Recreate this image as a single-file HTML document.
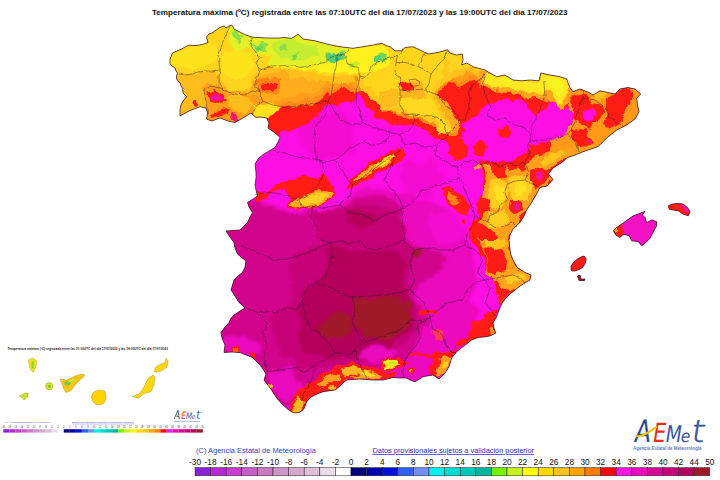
<!DOCTYPE html>
<html lang="es"><head><meta charset="utf-8"><title>Temperatura máxima - AEMET</title>
<style>html,body{margin:0;padding:0;background:#fff;overflow:hidden}svg{display:block;font-family:"Liberation Sans",Arial,sans-serif}</style></head><body>
<svg width="720" height="480" viewBox="0 0 720 480">
<defs>
<clipPath id="land"><polygon points="170,59 172.5,53 177,51 181.7,49 185,47 189,45 195,45.5 200,45 204,44 208,42.5 207,39 206.7,36.7 209,34 213,32.5 216,30 220,27.5 224,26 226,28 229,26 231.7,25 233,27 234,29 238,31 241.7,33 246,35 251,36.7 255,37.5 260,37.5 266,38 273,38 280,38 283,37.5 291.7,38.3 298.3,34.2 303,39 315,40.8 326.7,44 340,46.7 353,48.3 363,46.7 373,45 381.7,43.3 386.7,45.8 390,46.7 395,50.8 401.7,50.8 405,47.5 413,46.7 421.7,50.8 428,54 438,52.5 447.5,49.7 450,53 456.7,55 462.5,54 463,60 461.7,65 466.7,63 473,66.7 485,70 490,73 496.7,76.7 505,75 513,80 521.7,80.8 530,80 539,80.8 540.8,73 550,75 560,76.7 566.7,79 570,88 573,91.7 580,89 589,92.5 593,95 600,90.8 608,92.5 615,94 620,89 628,87.5 635,89 640.8,94 636.7,98 637.5,105 639,111.7 635,119 626.7,125 616.7,130 606.7,138 598,146.7 583,151.7 575,155 566.7,158 563,161.7 553,168 548.5,174 553,179.5 547,186 540,187.5 535,196.7 530,205 526.7,210 524,216 520,222.5 516,226 512.5,230 510,235 509,240 510,250 511,255 514,262 517.5,267.5 524,272 531,275 530,280 525,283 520,286 515,290 510,294 506,298 502.5,302.5 500,308 498.3,312 496,318 493,323 494,328 495.8,333 491,335.5 486.7,336.7 478,337.5 471.7,340 463,346.7 456.7,351.7 451.7,358 449,366.7 445,373 439,379 436,377 433,375 427,376 423,376.7 418,380 415,381.7 410,380 406.7,378 400,378 393,377.5 383,380 373,380 360,379 352,379.5 346.7,380 343,383 339,387 335,390 328,391 323,391.7 317,394 311.7,396.7 308.5,399.5 306.7,401.7 305,406 303,410 299,412.5 295,413 292,412 287.5,409 282,404 277.5,399 274,394 271,389 267,384 264,380 266,374 263,369 260,365 256,361 252.5,357.5 246,355 240,352.5 232,352 224,352.5 225,345 222,338 221,332.5 225,327 229,322.5 231,318 234,315 240,311 245,308 242,305 239,302.5 235,296 231,290 234,280 238,276 242.5,272.5 245,267 246,261 241,257 237.5,254 235,248 234,242.5 230,237 226,231 233,230.5 240,230 244,226 247.5,222.5 250,217 252.5,212.5 249,207 247.5,202.5 253,199 257.5,196 256,190 255,185 256,178 256,172.5 255,164 258,159 262.5,155 269,151 275,147.5 278,142 280,137.5 275,133 268,128 269,123 266.7,118 260,117 256,117.5 251,113 243,118 235,122.5 228,121 220,118 211.7,121 206.7,119 207.5,112.5 206,108 200,106.7 189,111 180,116 180,110 181,105 183,101 186.7,96.7 183,93 182.5,88 181,86 180,83 178,81 176.7,79 176.5,76 177.5,73 176,71 175,68 172,66 170,64"/><polygon points="613.3,230.8 616.7,227.5 625,221.7 633.3,215.8 640,213.3 645,211.3 642.5,215 645,217.5 646.7,222.5 651.7,220 656.7,221.7 656.7,225.8 653.3,231.7 650,238.3 645,243.3 641.7,245.8 638.3,241.7 631.7,240.8 629.2,235.8 623.3,234.2 620,237.5 615.8,235"/><polygon points="668.3,205.8 671.7,204.2 678.3,203.3 683.3,204.2 687.5,207.5 690,211.7 688.3,215.8 683.3,214.2 678.3,210.8 673.3,210 669.2,209.2"/><polygon points="571,266 574,262 577.5,259 581,257 584,256 586,258.5 586,261 584.5,264.5 582.5,267.5 579,269.5 575,271 572.5,271 571,270"/><polygon points="577.5,276 580,275 581,279 585,279 584.5,280.5 579,280.5"/></clipPath>
<filter id="bl" x="-5%" y="-5%" width="110%" height="110%"><feGaussianBlur stdDeviation="0.7"/></filter>
<filter id="wob" x="-2%" y="-2%" width="104%" height="104%" color-interpolation-filters="sRGB"><feTurbulence type="fractalNoise" baseFrequency="0.09" numOctaves="3" seed="7" result="n"/><feDisplacementMap in="SourceGraphic" in2="n" scale="9" xChannelSelector="R" yChannelSelector="G" result="d"/><feGaussianBlur in="d" stdDeviation="0.55"/></filter>
<filter id="bl2" x="-5%" y="-5%" width="110%" height="110%" color-interpolation-filters="sRGB"><feTurbulence type="fractalNoise" baseFrequency="0.06" numOctaves="3" seed="3" result="n"/><feDisplacementMap in="SourceGraphic" in2="n" scale="14" xChannelSelector="R" yChannelSelector="G" result="d"/><feGaussianBlur in="d" stdDeviation="1.5"/></filter>
<filter id="wobl" x="-2%" y="-2%" width="104%" height="104%"><feTurbulence type="fractalNoise" baseFrequency="0.16" numOctaves="2" seed="2" result="n"/><feDisplacementMap in="SourceGraphic" in2="n" scale="3.5" xChannelSelector="R" yChannelSelector="G"/></filter>
</defs>
<rect width="720" height="480" fill="#fff"/>
<g clip-path="url(#land)">
<rect x="160" y="20" width="540" height="400" fill="#fd0ee2"/>
<g filter="url(#bl2)">
<polygon points="200,198 255,198 290,210 320,209 340,205 352,192 372,188 395,192 420,200 445,208 462,225 470,245 476,265 476,285 470,300 478,312 476,335 456,350 448,372 440,386 400,386 400,430 200,430" fill="#eb0abe" />
<polygon points="200,202 255,202 290,213 320,212 342,208 356,198 375,194 392,198 400,210 404,228 408,242 420,248 440,252 446,262 440,274 424,280 414,288 412,298 422,310 428,322 422,338 410,352 400,366 380,372 365,376 340,380 328,388 312,396 300,408 275,404 260,378 250,354 200,354" fill="#d2048e" />
<polygon points="312,212 330,210 350,208 375,206 395,208 402,225 405,240 412,250 410,265 408,285 408,298 416,310 420,322 414,336 402,346 385,354 365,360 340,364 318,368 300,370 285,358 275,340 268,318 290,300 296,282 290,262 300,250 318,244 316,228" fill="#c80078" />
<polygon points="322,246 345,250 370,252 395,248 404,258 404,290 410,305 414,320 408,332 396,342 378,350 350,355 325,356 305,352 298,335 300,312 305,295 318,283 328,268 330,256" fill="#b4005a" />
<polygon points="346,213 360,212 380,215 378,224 360,226 348,222" fill="#b4005a" />
<polygon points="355,301 373,296 395,297 409,303 410,320 401,333 384,339 366,338 355,328" fill="#a01928" />
<polygon points="322,318 335,313 350,316 351,333 340,340 325,338 319,328" fill="#a01928" />
<polygon points="413,250 423,249 424,258 418,261 413,258" fill="#a01928" />
<polygon points="224,338 245,334 260,346 258,358 235,358 220,350" fill="#eb0abe" />
<polygon points="268,372 290,368 302,385 296,402 280,400 270,388" fill="#eb0abe" />
<polygon points="364,348 385,344 398,350 393,358 372,360 360,356" fill="#eb0abe" />
<polygon points="300,118 340,112 356,130 350,152 318,158 298,142" fill="#f40cd0" />
<polygon points="400,165 430,160 445,180 430,200 405,196" fill="#f40cd0" />
<polygon points="486,114 520,114 540,126 520,138 490,132" fill="#f40cd0" />
<polygon points="430,215 455,212 468,230 455,245 432,240" fill="#f40cd0" />
</g>
<g filter="url(#wob)">
<polygon points="160,20 160,130 262,130 268,128 280,137 280,132 291.7,130.5 303,125.5 311.7,120 318,113.5 325,108 328,104 336.7,105 345,103 351.7,101.7 356.7,98 360,94 363,103 370,111 377,116 383,120.5 390,123.5 400,126 413,128 425,131 435,137 443,140 451.7,146.7 458,153 463,160 466,165 472,178 480,190 480,205 475,218 468,235 476,246 482,257 486,270 492,282 496,295 500,303 540,303 700,100 700,20" fill="#ff1c14" />
<polygon points="461.7,125 475,116.7 486.7,105 496.7,101.7 500,101 506,99 514,101 520,99 525,104 530,110 535,115 543,110 550,103 555,103 558,110 566.7,108 573,111.7 578,116.7 573,126.7 570,133 556.7,140 543,143 530,146.7 525,151.7 516.7,160 505,163 491.7,160 478,161 483,175 484,195 470,195 466,170 458,160 452,150 455,142 462,138 466,132 462,128" fill="#fd0ee2" />
<polygon points="160,20 160,130 262,130 266,119 270,118 276.7,111.7 286.7,108 300,105.8 313,105 323,98 327,93 333,96 341.7,86.7 350,88 356.7,95 363,90 370,93 373,98 380,106.7 386.7,111.7 396.7,113 410,118 423,121.7 436.7,128 446.7,136.7 453,138 460,135 458,128 450,120 443,111.7 438,100 441.7,90 446.7,84 455,83 460,86.7 466.7,83 473,81.7 480,86.7 486.7,83 500,86.7 513,93 527,90 540,100 550,103 563,100 570,97 575,40 575,20" fill="#ff8a18" />
<polygon points="160,20 160,125 262,125 266,114 270,113 276.7,106.7 286.7,103 300,100.8 313,100 323,93 327,88 333,91 341.7,81.7 350,83 356.7,90 363,85 370,88 373,93 380,101.7 386.7,106.7 396.7,108 410,113 423,116.7 436.7,123 446.7,131.7 453,133 460,130 458,123 450,115 443,106.7 438,95 441.7,85 446.7,79 455,78 460,81.7 466.7,78 473,76.7 480,81.7 486.7,78 500,81.7 513,88 527,85 540,95 550,98 563,95 570,92 575,40 575,20" fill="#ff9c1a" />
<polygon points="160,20 160,119 262,119 266,108 270,107 276.7,100.7 286.7,97 300,94.8 313,94 323,87 327,82 333,85 341.7,75.7 350,77 356.7,84 363,79 370,82 373,87 380,95.7 386.7,100.7 396.7,102 410,107 423,110.7 436.7,117 446.7,125.7 453,127 460,124 458,117 450,109 443,100.7 438,89 441.7,79 446.7,73 455,72 460,75.7 466.7,72 473,70.7 480,75.7 486.7,72 500,75.7 513,82 527,79 540,89 550,92 563,89 570,86 575,40 575,20" fill="#ffac1c" />
<polygon points="160,20 160,86 160,86 177,86 193,80 216,76 220,88 228,96 240,98 250,94 253,82 263,76 280,70 286.7,76 303,77.7 320,81 336.7,82.7 350,81 363,81 373,76 390,71 396.7,76 401.7,82.7 413,89 423,96 435,92.7 438,84 446.7,81 460,76 466.7,72.7 480,78 490,84 500,88 510,90 520,92 530,92 540,94 545,40 545,20" fill="#ffc01c" />
<polygon points="160,20 160,80 160,80 177,80 193,74 216,70 220,82 228,90 240,92 250,88 253,76 263,70 280,64 286.7,70 303,71.7 320,75 336.7,76.7 350,75 363,75 373,70 390,65 396.7,70 401.7,76.7 413,83 423,90 435,86.7 438,78 446.7,75 460,70 466.7,66.7 480,72 490,78 500,82 510,84 520,86 530,86 540,88 545,40 545,20" fill="#ffd41c" />
<polygon points="357,60 357,85 370,97.5 382.5,107.5 400,112.5 415,116 430,121 442.5,129 450,132.5 450,122.5 442.5,110 436,97.5 440,87.5 450,80 450,60" fill="#ffc61c" />
<polygon points="362,60 362,82 374,93 386,102 402,107 417,111 431,116 441,123 445,125 444,118 438,108 431,97 434,86 444,78 444,60" fill="#ffd41c" />
<polygon points="400,84 420,82 428,95 422,108 408,108 400,98" fill="#ffb41c" />
<polygon points="176.7,75 193.3,73.3 216.7,70 220,83.3 215,86.7 203.3,88.3 201.7,100 181.7,100 180,86.7" fill="#ffbc1c" />
<polygon points="176.7,80 206.7,80 203.3,90 205,100 207.5,112.5 200,106.7 189.2,110.8 180,115.8 178.3,96.7" fill="#ffbc1c" />
<polygon points="172.5,53.3 181.7,49.2 200,45 215,43.3 218.3,53.3 210,63.3 193.3,68.3 180,68.3 171.7,61.7" fill="#fbe21a" />
<polygon points="223.3,50 238.3,48.3 250,53.3 253.3,66.7 246.7,76.7 231.7,78.3 223.3,70 220.8,60" fill="#fbe21a" />
<polygon points="228.3,28.3 233.3,26.7 241.7,33.3 250.8,36.7 280,38.3 280,58.3 270,57.5 260,54.2 253.3,49.2 248.3,46.7 243.3,50 235,48.3 230,41.7 227.5,35" fill="#e2f028" />
<polygon points="230.8,32.5 238.3,30.8 242.5,38.3 237.5,44.2 232.5,40.8" fill="#8ce048" />
<polygon points="253.3,45 260,41.7 268.3,43.3 266.7,50 256.7,51.7" fill="#8ce048" />
<polygon points="255,46.7 261.7,45 263.3,48.3 257.5,49.7" fill="#58d060" />
<polygon points="203.3,86.7 216.7,85 230,90 246.7,93.3 261.7,96.7 266.7,118.3 255.8,117.5 250.8,113.3 243.3,118.3 235,122.5 228.3,120.8 220,118.3 211.7,120.8 206.7,119.2 207.5,112.5 205,100" fill="#ff9c18" />
<polygon points="226.7,95.8 238.3,94.2 250,96.7 253.3,105 246.7,112.5 236.7,111.7 230,106.7" fill="#ffbc1c" />
<polygon points="207.5,92.5 215,90 223.3,93.3 226.7,98.3 223.3,103.3 215,105 209.2,101.7" fill="#ff1c14" />
<polygon points="209.2,95 215,92.5 222.5,95 224.2,99.2 216.7,101.7 210,99.2" fill="#f810a0" />
<polygon points="208.3,114.2 215,111.7 223.3,108.3 230,110.8 226.7,114.2 216.7,116.7 210,119.2" fill="#ff1c14" />
<polygon points="231.7,111.7 235.8,113.3 238.3,119.2 235,121.7 230.8,119.2" fill="#f81470" />
<polygon points="193.3,100.8 195.8,99.7 198.3,101.7 197.5,105.8 194.2,105.8" fill="#ff1c14" />
<polygon points="253.3,106.7 261.7,103.3 276.7,106.7 280,108.3 275,113.3 266.7,118 255.8,117" fill="#ffe01c" />
<polygon points="256.7,81.7 268.3,76.7 280,78.3 280,93.3 263.3,95 256.7,90" fill="#ff8418" />
<polygon points="260,85 266.7,81.7 276.7,82.5 275,88.3 263.3,90.8" fill="#ff1c14" />
<polygon points="270,80.8 276.7,82.5 277.5,88.3 271.7,90.8 270,90" fill="#ff1c14" />
<polygon points="270,36.7 298.3,34.2 315,40.8 340,46.7 363.3,46.7 390,46.7 390,65 373.3,70 363.3,73.3 350,73.3 336.7,73.3 320,71.7 303.3,70 286.7,68.3 270,66.7" fill="#fff01c" />
<polygon points="270,36.7 298.3,34.2 315,40.8 340,46.7 348.3,48.3 345,56.7 336.7,61.7 328.3,64.2 311.7,65 298.3,67.5 286.7,65 276.7,65.8 270,65" fill="#e2f028" />
<polygon points="273.3,41.7 290,40 303.3,43.3 316.7,48.3 320,55 306.7,58.3 293.3,60 280,56.7 273.3,50" fill="#c4ec30" />
<polygon points="326.7,55.8 333.3,53.3 343.3,52.5 345,57.5 336.7,61.7 330,63.7 325.8,60.8" fill="#58cc70" />
<polygon points="333.3,55.8 340,54.7 341.7,58 335.8,60" fill="#30b890" />
<polygon points="291.7,53.3 296.7,52.5 297.5,58.3 293.3,59.2" fill="#70d850" />
<polygon points="280,45 286.7,44.2 287.5,48.3 281.7,49.2" fill="#90dc48" />
<polygon points="375,55.8 381.7,55 385,59.2 380,62.5 375,60.8" fill="#58cc70" />
<polygon points="348.3,60 356.7,61.7 360,66.7 353.3,67.5 348.3,64.2" fill="#c4ec30" />
<polygon points="380,54.2 385.8,55 385,61.7 380,62.5" fill="#70d850" />
<polygon points="353.3,76.7 357.5,75.8 358.3,80.8 354.2,80.8" fill="#ff8418" />
<polygon points="400,82.5 406.7,80.8 413.3,85 411.7,90 403.3,89.2" fill="#ff1c14" />
<polygon points="400,100 413.3,96.7 430,100 435,111.7 423.3,115 410,113.3 401.7,108.3" fill="#ffd820" />
<polygon points="435,121.7 446.7,123.3 450,131.7 443.3,133.7 436.7,128.7" fill="#ffd820" />
<polygon points="380,90 398.3,90 398.3,100 390,106.7 380,105" fill="#ffbc1c" />
<polygon points="347.5,185 355,175 367.5,165 380,157.5 390,150 400,147.5 405,152.5 402.5,162.5 390,167.5 377.5,172.5 367.5,180 357.5,187.5 350,187.5" fill="#ff1c14" />
<polygon points="353.8,182.5 362.5,172.5 375,165 385,157.5 395,153.8 397.5,158.8 387.5,163.8 375,170 365,177.5 357.5,183.8" fill="#ffa820" />
<polygon points="375,164.5 385,158 393.8,155 395,158 386.2,162.5 377.5,167.5" fill="#ffd820" />
<polygon points="288.3,181.7 298.3,176.7 311.7,177.5 323.3,173.3 328.3,176.7 331.7,183.3 335,189.2 333.3,195.8 330,200.8 323.3,204.2 315,206.7 305,209.2 295,210.8 288.7,208.3 291.7,200 288.3,194.2 283.3,190.8 275,189.2 273.3,185 281.7,183.3" fill="#ff1c14" />
<polygon points="255,198.3 258.3,191.7 265,190 270,193.3 266.7,198.3 260,201.7" fill="#ff1c14" />
<polygon points="266.7,192.5 275,187.5 284.2,187.5 284.2,190.8 275,190.8 268.3,195.8" fill="#ff1c14" />
<polygon points="290,207 296.7,198.7 305,193.7 315,191.2 325,191.2 332,193.7 330.3,198.7 323.3,202.8 315,205.3 305,207.8 295,209.5" fill="#ffa820" />
<polygon points="300,200.3 308.3,195.3 318.3,193.7 326.7,194.5 325,199.3 316.7,202.7 306.7,205.2 300,204.3" fill="#ffd020" />
<polygon points="496.7,128.3 506.7,126 512.7,131.7 508.3,139.3 499.3,138.3" fill="#ff1c14" />
<polygon points="442.5,187.5 452.5,188.8 462.5,197.5 470,205 467.5,215 460,212.5 452.5,207.5 446.2,200" fill="#ff1c14" />
<polygon points="447.5,193.8 453.8,195 458.8,202.5 455,204.5 449.5,200" fill="#ff8418" />
<polygon points="460,220 465,219.5 465.5,225 460.5,225" fill="#ff1c14" />
<polygon points="450,143.3 460,140 468.3,146.7 466.7,156.7 458.3,160 450,156.7" fill="#ff1c14" />
<polygon points="473.3,143.3 481.7,141.7 486.7,148.3 483.3,156.7 475,155" fill="#ff1c14" />
<polygon points="474.2,165.8 479.2,164.2 480.8,169.2 475.8,170.8" fill="#ffa41c" />
<polygon points="480,70 486.7,69.2 496.7,76.7 505,75 513.3,80 530,80 539.2,80.8 540.8,73.3 550,75 560,76.7 566.7,79.2 570,88.3 573.3,91.7 580,89.2 588.3,90 595,94.2 600,90.8 600,103.3 590,101.7 580,100 573.3,98.3 570,101.7 563.3,108.3 558.3,110 555,103.3 550,101.7 545,96.7 541.7,100 535,98.3 526.7,98.3 520,93.3 511.7,91.7 503.3,91.7 495,90 486.7,86.7 480,85" fill="#ffa41c" />
<polygon points="485,73.3 496.7,76.7 505,75 513.3,80 530,80 539.2,80.8 540.8,73.3 550,75 560,76.7 566.7,79.2 570,88.3 566.7,93.3 563.3,103.3 558.3,106.7 555,98.3 550,92.5 545,90 541.7,95.8 535,94.2 526.7,93 520,90 511.7,88.3 503.3,88.3 495,86.7 486.7,83.3" fill="#ffe820" />
<polygon points="546.7,78.3 558.3,78.3 563.3,86.7 558.3,93.3 551.7,86.7" fill="#f4f420" />
<polygon points="498.3,78.3 506.7,77.5 510,81.7 503.3,82.5" fill="#f4f420" />
<polygon points="566.7,96.7 570.8,90 580,89.2 589.2,92.5 593.3,95 600,90.8 608.3,92.5 615,94.2 620,89.2 628.3,87.5 635,89.2 643.3,94.2 643.3,113.3 635,120.8 626.7,126.7 616.7,131.7 606.7,140 598.3,148.3 583.3,153.3 566.7,160 550,160 550,141.7 558.3,138.3 566.7,131.7 573.3,125 576.7,118.3 571.7,113.3 568.3,106.7" fill="#ff9a18" />
<polygon points="606.7,98.3 616.7,93.3 621.7,89.2 631.7,88.3 633.3,96.7 630,105 625,113.3 621.7,121.7 613.3,126.7 606.7,130 603.3,123.3 608.3,116.7 606.7,110 605,103.3" fill="#ff1c14" />
<polygon points="571.7,96.7 580,95 588.3,98.3 593.3,103.3 600,105 605,110 601.7,118.3 593.3,123.3 588.3,130 583.3,128.3 578.3,121.7 573.3,118.3 575,110 570,103.3" fill="#ff1c14" />
<polygon points="583.3,110 591.7,108.3 596.7,113.3 593.3,120 586.7,121.7 582.5,116.7" fill="#fd0ee2" />
<polygon points="573.3,128.3 583.3,130 591.7,136.7 595,143.3 588.3,146.7 580,148.3 575,153.3 576.7,143.3 571.7,136.7" fill="#ff1c14" />
<polygon points="588.3,140 591.7,140 592.5,143.3 589.2,144.2" fill="#f81490" />
<polygon points="593.3,95.8 600,91.7 606.7,93.3 605,98.3 598.3,100" fill="#ffc41c" />
<polygon points="482.5,166 495,163.5 510,170 525,165 537.5,155 560,150 595,145 595,150 570,157.5 555,165 545,172.5 555,179.5 542.5,187.5 532.5,200 525,212.5 517.5,222.5 510,235 507.5,250 505,270 488.8,270 485.5,255 481,245 478.5,232.5 479.8,220 483.5,207.5 482.5,195 486,180" fill="#ffa01c" />
<polygon points="540,160 553.3,153.3 563.3,150 565,155 553.3,161.7 543.3,166.7" fill="#ffc41c" />
<polygon points="490,182.5 505,180 507.5,195 502.5,207.5 492.5,207.5 487.5,195" fill="#ffcc20" />
<polygon points="507.5,177.5 527.5,176.2 532.5,187.5 527.5,200 512.5,200 507.5,190" fill="#ffcc20" />
<polygon points="487.5,212.5 505,211.2 510,222.5 500,228.8 488.8,225" fill="#ffcc20" />
<polygon points="495,187.5 502.5,186.2 503.8,200 496.2,201.2" fill="#ffe020" />
<polygon points="513.8,181.2 525,180 526.2,192.5 516.2,195" fill="#ffe020" />
<polygon points="530,170 540,167.5 552.5,176.2 545,183.8 535,187.5 530,180" fill="#ff1c14" />
<polygon points="535,172.5 540,171.2 543,177 538,179.5" fill="#f414a0" />
<polygon points="510,200 520,200 522.5,210 515,215 508.8,210" fill="#ff1c14" />
<polygon points="513,203 518,202.5 519,208.5 514.5,210" fill="#f41490" />
<polygon points="480,197.5 490,200 491.2,210 482.5,212.5 478,206.2" fill="#ff1c14" />
<polygon points="476.2,222.5 487.5,225 495,232.5 500,242.5 495,250 485,245 478.8,235" fill="#ff1c14" />
<polygon points="485,250 502.5,252.5 505,270 487.5,270" fill="#ff1c14" />
<polygon points="492.5,162.5 502.5,165 507.5,175 497.5,180 490,172.5" fill="#ff1c14" />
<polygon points="515,160 525,157.5 527.5,167.5 520,172.5" fill="#ff1c14" />
<polygon points="495,255 500,256.2 500.5,262.5 496,263" fill="#f41490" />
<polygon points="482.5,240 508.8,240 511.2,255 517.5,267.5 531.2,275 530,280 520,286.2 510,293.8 500,302.5 496.2,295 492.5,282.5 487.5,272.5 485,255" fill="#ff9c18" />
<polygon points="485,250 500,247.5 507.5,260 505,275 495,277.5 487.5,270" fill="#ff1c14" />
<polygon points="486.2,240 505,240 506.2,247.5 495,250 486.2,247.5" fill="#ffc41c" />
<polygon points="492.5,282.5 510,277.5 520,286.2 510,293.8 500,302.5 496.2,295" fill="#ff1c14" />
<polygon points="507.5,270 517.5,268.8 528.8,275 522.5,281.2 512.5,277.5" fill="#ffb01c" />
<polygon points="496.2,272 517.5,268 531.2,275 530,280.5 520,287 511.2,291.2 501.2,288.8 495,280.5" fill="#ffa41c" />
<polygon points="505,275.5 520,274 526.2,277 517.5,282.5 507.5,283" fill="#ffcc20" />
<polygon points="420,310.5 435,309.5 435.5,314 420.5,315" fill="#ff1c14" />
<polygon points="432.5,330.5 442,329.5 443,339.5 433.5,340" fill="#ff3c50" />
<polygon points="472.5,325 482.5,317.5 492.5,312.5 498.8,312.5 496.2,322.5 496.2,333.8 485,337 475,338 467.5,340" fill="#ff1c14" />
<polygon points="290,411.7 295,414.2 303.3,410.8 306.7,402.5 311.7,397.5 323.3,392.5 335,390.8 343.3,384.2 346.7,380.8 360,380 373.3,380.8 383.3,380.8 393.3,378.3 396.7,373.3 390,371.7 380,368.3 370,366.7 360,365 351.7,365 345,368.3 338.3,373.3 333.3,380 328.3,378.3 323.3,375 318.3,378.3 313.3,386.7 306.7,390 300,388.3 295,395 291.7,403.3 290,406.7" fill="#ff1c14" />
<polygon points="346.7,370.8 356.7,368.3 366.7,370 376.7,372.5 383.3,375.8 380,379.7 370,379.2 360,378.3 348.3,379.2 343.3,382.5 340,378.3" fill="#ffa820" />
<polygon points="360,370.8 368.3,371.7 373.3,374.2 368.3,376.3 361.7,375.3" fill="#ffe020" />
<polygon points="318.3,381.7 325,378.3 330,381.7 326.7,386.7 320,388.3" fill="#ffa820" />
<polygon points="293.3,406.7 298.3,403.3 301.7,406.7 300,411.7 295,413.7" fill="#ffc820" />
<polygon points="296.7,395 303.3,391.7 308.3,395 305,400 300,401.7" fill="#ff8c18" />
<polygon points="328.3,388.3 334.2,386.7 335,390 330,390.8" fill="#ffb020" />
<polygon points="380.8,363.3 387.5,358.3 398.3,358.3 405,360.8 410,361.7 410,365 403.3,365 396.7,369.2 385,370" fill="#ff1c14" />
<polygon points="383.3,363.3 388.3,360 396.7,360 400,363.3 395,367.5 386.7,368.3" fill="#f8e820" />
<polygon points="387.5,362.5 392.5,361.3 395,364.2 390,365.8" fill="#c8e828" />
<polygon points="431.7,353.3 441.7,351.7 450,351.7 456.7,351.7 451.7,358.3 449.2,366.7 445,373.3 439.2,379.7 433.3,375.3 430,366.7 431.7,360" fill="#ff1c14" />
<polygon points="438.3,358.3 445,355 451.7,358.3 449.2,366.7 445,373.3 440,378.7 435.8,373.3 437.5,366.7" fill="#ffa020" />
<polygon points="442.5,360 448.3,360 447.5,366.7 443.3,370 440.8,365" fill="#ffd020" />
<polygon points="410,353.3 420,352.5 431.7,354.2 430.8,356.7 420,356.2 410.8,356.2" fill="#ff1c14" />
<polygon points="407.5,370 411.7,368.3 414.7,371.3 413,375 408.7,375" fill="#ff1c14" />
<polygon points="409.2,370.8 412,370 413.3,372 411.7,373.8 409.5,373.3" fill="#ffc820" />
<polygon points="456.7,343.3 463.3,338.3 468.3,340 463.3,346.7 458.3,348.3" fill="#ff1c14" />
<polygon points="473.3,323.3 483.3,316.7 493.3,310 499.2,310 494.2,323.3 496.7,333.3 486.7,337.2 478.3,338 471.7,340.5 466.7,343.8 460,347.2 463.3,338.3 470,333.3 475,328.3" fill="#ff1c14" />
<polygon points="489.2,328.3 493.3,327.5 495.3,332.5 490.8,333.3" fill="#ff9c18" />
<polygon points="228.8,347.5 238.8,347.5 240,353 230,353" fill="#ff1c14" />
<polygon points="231.2,349 237,349 237.5,352.5 232,352.5" fill="#ff6418" />
<polygon points="247.5,353.8 255,353.8 256.2,360 251.2,358.8" fill="#ff1c14" />
<polygon points="268.8,385 273,386.2 272.5,390.5 269,389.5" fill="#ffb020" />
<polygon points="290,410 292.5,400 300,390 310,382.5 320,375 335,367.5 350,362.5 360,362.5 360,375 340,382.5 320,387.5 310,397.5 305,410 297.5,414.5" fill="#ff1c14" />
<polygon points="292.5,407.5 297.5,397.5 305,400 302.5,410 297.5,413" fill="#ffb820" />
<polygon points="315,382.5 330,375 340,372.5 340,380 325,386.2" fill="#ffa020" />
<polygon points="340,370 355,365 360,366.2 360,373.8 345,377.5" fill="#ffb820" />
<polygon points="604,199 666,199 666,256 604,256" fill="#f212c4" />
<polygon points="611,232 616,226 623,224.5 624,231 620,238 614,236" fill="#ff1c14" />
<polygon points="616.5,229 619.5,227.5 620.5,231 617.5,232.5" fill="#ffb020" />
<polygon points="659,194 698,194 698,223 659,223" fill="#ff1c14" />
<polygon points="680,204 687,205 690,211 686,213 681,210" fill="#f414b0" />
<polygon points="562,248 594,248 594,273 562,273" fill="#ff1c14" />
<polygon points="570,273.2 592,273.2 592,288 570,288" fill="#b01828" />
</g>
</g>
<g fill="none" stroke="#241428" stroke-width="0.75" stroke-linejoin="round" opacity="0.6" filter="url(#wobl)">
<polyline points="230,25.5 226,35 222,42 220,47.5 218,55 219,62.5 220,70" />
<polyline points="179,74 185,75 192.5,74 199,72 205,71 212,71 220,70" />
<polyline points="220,70 219,76 219,82.5 222.5,89" />
<polyline points="222.5,89 216,87 210,86 204,90 205,96 206,102.5 207,108 207.5,114" />
<polyline points="222.5,89 228,92 235,94 245,95 252.5,91 260,92.5" />
<polyline points="252.5,38 250,45 255,51 260,57.5 256,62.5 260,70" />
<polyline points="260,70 257.5,77.5 254,85 260,92.5" />
<polyline points="260,92.5 262.5,101 255,107.5 252,115" />
<polyline points="262.5,101 272.5,105 285,107.5 297.5,106 310,105 320,102.5 327.5,100" />
<polyline points="260,70 267.5,67.5 280,66 292.5,65 300,67.5 312.5,65 325,62.5 330,57.5 337.5,55 345,54" />
<polyline points="347.5,49 345,54" />
<polyline points="337.5,55 336,67.5 334,75 332.5,87.5 331,96 327.5,100" />
<polyline points="345,54 347.5,65 357.5,67.5 360,76 365,77.5 370,72.5 372.5,65 382.5,60 392.5,57.5 397.5,55 403.75,48.75" />
<polyline points="360,76 357.5,87.5 356,102.5 360,110 362.5,122" />
<polyline points="327.5,100 326,115 318,122 315,130 314,137.5 315,150 317.5,160 322.5,162.5" />
<polyline points="327.5,100 333,108 340,120 352.5,125 362.5,122" />
<polyline points="362.5,122 365,124 375,127.5 390,132.5" />
<polyline points="390,132.5 387.5,141 375,145 362.5,142.5 350,147.5 342.5,155 335,160 322.5,162.5" />
<polyline points="272.5,150 285,154 300,157.5 315,159 322.5,162.5" />
<polyline points="322.5,162.5 324,172.5 320,182.5 312.5,190 307.5,195 297.5,200" />
<polyline points="335,160 342.5,170 347.5,180 352.5,185" />
<polyline points="352.5,185 362.5,177.5 372.5,170 382.5,162.5 392.5,155 400,150" />
<polyline points="352.5,185 350,195 340,205" />
<polyline points="255,195 262,193 272.5,192.5 285,195 297.5,200" />
<polyline points="297.5,200 302.5,207.5 312.5,206 325,207.5 340,205" />
<polyline points="340,205 350,212.5 365,215 372.5,221 385,215 397.5,211 402.5,207.5" />
<polyline points="400,150 395,158 390,167.5 385,180 390,188 395,192.5 400,200 402.5,207.5" />
<polyline points="390,132.5 400,135 412.5,127.5" />
<polyline points="400,150 405,145 400,135" />
<polyline points="400,90 400,105 405,115 412.5,114" />
<polyline points="412.5,114 425,115 437.5,117.5 445,125 447.5,135" />
<polyline points="412.5,114 415,120 412.5,127.5" />
<polyline points="405,145 415,143 425,147 437.5,145" />
<polyline points="447.5,135 443,140 437.5,145" />
<polyline points="437.5,145 435,155 447.5,162.5 457.5,167.5" />
<polyline points="457.5,167.5 465,162.5 472.5,160 482.5,165 490,160 500,167.5 507.5,162.5 517.5,165 525,162.5" />
<polyline points="457.5,167.5 460,177.5" />
<polyline points="460,177.5 447.5,182.5 435,186 422.5,190 415,200 405,207.5 402.5,207.5" />
<polyline points="402.5,207.5 402.5,225 405,240" />
<polyline points="460,177.5 465,190 470,202.5 475,215" />
<polyline points="475,215 472.5,225 467.5,235 465,245" />
<polyline points="465,245 452.5,250 440,250 427.5,247.5 415,250" />
<polyline points="415,250 408,246 405,240" />
<polyline points="330,242.5 340,241 350,244 360,240 365,247.5 375,250 390,246 405,240" />
<polyline points="312.5,206 311,217.5 317.5,227.5 317.5,237.5 330,242.5" />
<polyline points="240,245 252.5,250 262.5,254 275,260 287.5,259 300,255 312.5,250 325,245 330,242.5" />
<polyline points="330,242.5 332.5,255 327.5,267.5 325,277.5 315,282.5" />
<polyline points="315,282.5 305,290 302.5,300 297.5,310 287.5,307.5 275,312.5 265,311 257.5,312.5 245,307.5" />
<polyline points="315,282.5 330,287.5 340,292.5 352.5,297.5 367.5,296 385,295 400,292.5 410,290" />
<polyline points="415,250 412.5,255 410,265 415,280 410,290" />
<polyline points="410,290 416,296 422.5,300 426,308 430,317.5" />
<polyline points="352.5,297.5 355,310 352.5,322.5 357.5,332.5 362.5,342.5" />
<polyline points="302.5,300 305,315 310,330 320,332.5 327.5,342.5 335,352.5" />
<polyline points="257.5,312.5 267.5,322.5 262.5,332.5 267.5,345 265,357.5 266,370" />
<polyline points="266,370 273,371 280,370 295,367.5 305,372.5 315,365" />
<polyline points="315,365 325,360 335,352.5" />
<polyline points="315,365 312.5,377.5 307.5,387.5 302.5,395 305,408" />
<polyline points="335,352.5 347.5,355 355,350 362.5,342.5" />
<polyline points="362.5,342.5 372.5,340 385,335 400,330 410,320 425,322 430,317.5" />
<polyline points="355,350 360,365 365,375 367.5,380" />
<polyline points="430,317.5 417.5,325 420,340 410,352.5 405,360 402.5,372.5 405,379" />
<polyline points="430,317.5 440,307.5 450,302.5 462.5,300 467.5,290 475,282.5 485,280" />
<polyline points="430,317.5 432.5,327.5 442.5,335 445,345 452.5,352.5 456,352.5" />
<polyline points="465,245 475,250 482.5,260 477.5,272.5 485,280" />
<polyline points="485,280 500,277.5 512.5,275 520,277.5 525,283" />
<polyline points="485,280 490,290 485,302.5 492.5,312.5 497,318" />
<polyline points="525,180 515,181 507.5,184 505,192.5 507.5,200 500,205 497.5,212.5 490,215 487.5,222.5" />
<polyline points="487.5,222.5 480,219 475,215" />
<polyline points="487.5,222.5 495,227.5 502.5,227.5 512.5,222.5 516,226" />
<polyline points="525,162.5 527.5,172.5 525,180" />
<polyline points="525,180 535,185 540,187.5" />
<polyline points="525,162.5 530,152.5 527.5,147.5 530,140 531,135" />
<polyline points="530,140 542.5,140 555,137.5 567.5,135" />
<polyline points="543.75,81 545,95 540,110 532.5,125 531,135" />
<polyline points="567.5,135 575,122.5 577.5,110 582.5,97.5" />
<polyline points="582.5,97.5 585,90" />
<polyline points="582.5,97.5 595,100 605,107.5 610,117.5 617.5,122.5 622.5,126" />
<polyline points="567.5,135 575,140 577.5,150 580,154" />
<polyline points="485,72.5 480,80 472.5,85 468,92 470,100 468,110 465,120" />
<polyline points="465,120 460,120 455,112.5 445,105 437.5,95 425,90" />
<polyline points="485,72.5 482.5,82.5 485,95 490,105 487.5,115 495,120 505,118 515,125 525,128 531,135" />
<polyline points="460,120 453,128 447.5,135" />
<polyline points="397.5,55 396,62.5 395,74 401,79 399,87.5 400,90" />
<polyline points="396,62.5 405,62.5 417.5,66" />
<polyline points="425,53 421,62.5 417.5,66" />
<polyline points="417.5,66 425,70 431,74" />
<polyline points="447.5,51 442.5,60 436,67.5 431,74" />
<polyline points="431,74 429,82.5 425,90" />
<polyline points="400,90 410,91 425,90" />
<polyline points="409,80 415,79 420,82 418,86 411,86 409,80" />
</g>
<g fill="none" stroke="#2a1a14" stroke-width="0.85" stroke-linejoin="round" opacity="0.85">
<polygon points="170,59 172.5,53 177,51 181.7,49 185,47 189,45 195,45.5 200,45 204,44 208,42.5 207,39 206.7,36.7 209,34 213,32.5 216,30 220,27.5 224,26 226,28 229,26 231.7,25 233,27 234,29 238,31 241.7,33 246,35 251,36.7 255,37.5 260,37.5 266,38 273,38 280,38 283,37.5 291.7,38.3 298.3,34.2 303,39 315,40.8 326.7,44 340,46.7 353,48.3 363,46.7 373,45 381.7,43.3 386.7,45.8 390,46.7 395,50.8 401.7,50.8 405,47.5 413,46.7 421.7,50.8 428,54 438,52.5 447.5,49.7 450,53 456.7,55 462.5,54 463,60 461.7,65 466.7,63 473,66.7 485,70 490,73 496.7,76.7 505,75 513,80 521.7,80.8 530,80 539,80.8 540.8,73 550,75 560,76.7 566.7,79 570,88 573,91.7 580,89 589,92.5 593,95 600,90.8 608,92.5 615,94 620,89 628,87.5 635,89 640.8,94 636.7,98 637.5,105 639,111.7 635,119 626.7,125 616.7,130 606.7,138 598,146.7 583,151.7 575,155 566.7,158 563,161.7 553,168 548.5,174 553,179.5 547,186 540,187.5 535,196.7 530,205 526.7,210 524,216 520,222.5 516,226 512.5,230 510,235 509,240 510,250 511,255 514,262 517.5,267.5 524,272 531,275 530,280 525,283 520,286 515,290 510,294 506,298 502.5,302.5 500,308 498.3,312 496,318 493,323 494,328 495.8,333 491,335.5 486.7,336.7 478,337.5 471.7,340 463,346.7 456.7,351.7 451.7,358 449,366.7 445,373 439,379 436,377 433,375 427,376 423,376.7 418,380 415,381.7 410,380 406.7,378 400,378 393,377.5 383,380 373,380 360,379 352,379.5 346.7,380 343,383 339,387 335,390 328,391 323,391.7 317,394 311.7,396.7 308.5,399.5 306.7,401.7 305,406 303,410 299,412.5 295,413 292,412 287.5,409 282,404 277.5,399 274,394 271,389 267,384 264,380 266,374 263,369 260,365 256,361 252.5,357.5 246,355 240,352.5 232,352 224,352.5 225,345 222,338 221,332.5 225,327 229,322.5 231,318 234,315 240,311 245,308 242,305 239,302.5 235,296 231,290 234,280 238,276 242.5,272.5 245,267 246,261 241,257 237.5,254 235,248 234,242.5 230,237 226,231 233,230.5 240,230 244,226 247.5,222.5 250,217 252.5,212.5 249,207 247.5,202.5 253,199 257.5,196 256,190 255,185 256,178 256,172.5 255,164 258,159 262.5,155 269,151 275,147.5 278,142 280,137.5 275,133 268,128 269,123 266.7,118 260,117 256,117.5 251,113 243,118 235,122.5 228,121 220,118 211.7,121 206.7,119 207.5,112.5 206,108 200,106.7 189,111 180,116 180,110 181,105 183,101 186.7,96.7 183,93 182.5,88 181,86 180,83 178,81 176.7,79 176.5,76 177.5,73 176,71 175,68 172,66 170,64"/>
<polygon points="613.3,230.8 616.7,227.5 625,221.7 633.3,215.8 640,213.3 645,211.3 642.5,215 645,217.5 646.7,222.5 651.7,220 656.7,221.7 656.7,225.8 653.3,231.7 650,238.3 645,243.3 641.7,245.8 638.3,241.7 631.7,240.8 629.2,235.8 623.3,234.2 620,237.5 615.8,235"/>
<polygon points="668.3,205.8 671.7,204.2 678.3,203.3 683.3,204.2 687.5,207.5 690,211.7 688.3,215.8 683.3,214.2 678.3,210.8 673.3,210 669.2,209.2"/>
<polygon points="571,266 574,262 577.5,259 581,257 584,256 586,258.5 586,261 584.5,264.5 582.5,267.5 579,269.5 575,271 572.5,271 571,270"/>
<polygon points="577.5,276 580,275 581,279 585,279 584.5,280.5 579,280.5"/>
</g>
<text x="152" y="14.5" font-size="8.1" font-weight="bold" fill="#111" textLength="415.5" lengthAdjust="spacingAndGlyphs">Temperatura máxima (ºC) registrada entre las 07:10UTC del día 17/07/2023 y las 19:00UTC del día 17/07/2023</text>
<text x="196" y="453.2" font-size="7.5" fill="#3a3ad0" textLength="120" lengthAdjust="spacingAndGlyphs">(C) Agencia Estatal de Meteorología</text>
<text x="372.5" y="453.2" font-size="7.4" fill="#2a2ac8" text-decoration="underline" textLength="161.5" lengthAdjust="spacingAndGlyphs">Datos provisionales sujetos a validación posterior</text>
<rect x="195.00" y="467.6" width="15.60" height="8.2" fill="#8a20d8" stroke="#222" stroke-width="0.5"/><rect x="210.60" y="467.6" width="15.60" height="8.2" fill="#b428d0" stroke="#222" stroke-width="0.5"/><rect x="226.20" y="467.6" width="15.60" height="8.2" fill="#c83cd0" stroke="#222" stroke-width="0.5"/><rect x="241.80" y="467.6" width="15.60" height="8.2" fill="#c85cc8" stroke="#222" stroke-width="0.5"/><rect x="257.40" y="467.6" width="15.60" height="8.2" fill="#c878c4" stroke="#222" stroke-width="0.5"/><rect x="273.00" y="467.6" width="15.60" height="8.2" fill="#cc94c8" stroke="#222" stroke-width="0.5"/><rect x="288.60" y="467.6" width="15.60" height="8.2" fill="#d4a8cc" stroke="#222" stroke-width="0.5"/><rect x="304.20" y="467.6" width="15.60" height="8.2" fill="#dcc0d8" stroke="#222" stroke-width="0.5"/><rect x="319.80" y="467.6" width="15.60" height="8.2" fill="#e8dce8" stroke="#222" stroke-width="0.5"/><rect x="335.40" y="467.6" width="15.60" height="8.2" fill="#ffffff" stroke="#222" stroke-width="0.5"/><rect x="351.00" y="467.6" width="15.60" height="8.2" fill="#000078" stroke="#222" stroke-width="0.5"/><rect x="366.60" y="467.6" width="15.60" height="8.2" fill="#0000a8" stroke="#222" stroke-width="0.5"/><rect x="382.20" y="467.6" width="15.60" height="8.2" fill="#0010d8" stroke="#222" stroke-width="0.5"/><rect x="397.80" y="467.6" width="15.60" height="8.2" fill="#3060f0" stroke="#222" stroke-width="0.5"/><rect x="413.40" y="467.6" width="15.60" height="8.2" fill="#7090f8" stroke="#222" stroke-width="0.5"/><rect x="429.00" y="467.6" width="15.60" height="8.2" fill="#00f0f0" stroke="#222" stroke-width="0.5"/><rect x="444.60" y="467.6" width="15.60" height="8.2" fill="#00dcd0" stroke="#222" stroke-width="0.5"/><rect x="460.20" y="467.6" width="15.60" height="8.2" fill="#00c8b8" stroke="#222" stroke-width="0.5"/><rect x="475.80" y="467.6" width="15.60" height="8.2" fill="#00b4a0" stroke="#222" stroke-width="0.5"/><rect x="491.40" y="467.6" width="15.60" height="8.2" fill="#78f000" stroke="#222" stroke-width="0.5"/><rect x="507.00" y="467.6" width="15.60" height="8.2" fill="#c8f020" stroke="#222" stroke-width="0.5"/><rect x="522.60" y="467.6" width="15.60" height="8.2" fill="#ffff00" stroke="#222" stroke-width="0.5"/><rect x="538.20" y="467.6" width="15.60" height="8.2" fill="#ffd800" stroke="#222" stroke-width="0.5"/><rect x="553.80" y="467.6" width="15.60" height="8.2" fill="#ffc020" stroke="#222" stroke-width="0.5"/><rect x="569.40" y="467.6" width="15.60" height="8.2" fill="#ffa400" stroke="#222" stroke-width="0.5"/><rect x="585.00" y="467.6" width="15.60" height="8.2" fill="#ff7c00" stroke="#222" stroke-width="0.5"/><rect x="600.60" y="467.6" width="15.60" height="8.2" fill="#ff0000" stroke="#222" stroke-width="0.5"/><rect x="616.20" y="467.6" width="15.60" height="8.2" fill="#ff14e6" stroke="#222" stroke-width="0.5"/><rect x="631.80" y="467.6" width="15.60" height="8.2" fill="#eb0abe" stroke="#222" stroke-width="0.5"/><rect x="647.40" y="467.6" width="15.60" height="8.2" fill="#d70596" stroke="#222" stroke-width="0.5"/><rect x="663.00" y="467.6" width="15.60" height="8.2" fill="#c80078" stroke="#222" stroke-width="0.5"/><rect x="678.60" y="467.6" width="15.60" height="8.2" fill="#b4005a" stroke="#222" stroke-width="0.5"/><rect x="694.20" y="467.6" width="15.60" height="8.2" fill="#a01928" stroke="#222" stroke-width="0.5"/><g font-size="8.3" text-anchor="middle" fill="#111"><text x="195.00" y="465">-30</text><text x="210.60" y="465">-18</text><text x="226.20" y="465">-16</text><text x="241.80" y="465">-14</text><text x="257.40" y="465">-12</text><text x="273.00" y="465">-10</text><text x="288.60" y="465">-8</text><text x="304.20" y="465">-6</text><text x="319.80" y="465">-4</text><text x="335.40" y="465">-2</text><text x="351.00" y="465">0</text><text x="366.60" y="465">2</text><text x="382.20" y="465">4</text><text x="397.80" y="465">6</text><text x="413.40" y="465">8</text><text x="429.00" y="465">10</text><text x="444.60" y="465">12</text><text x="460.20" y="465">14</text><text x="475.80" y="465">16</text><text x="491.40" y="465">18</text><text x="507.00" y="465">20</text><text x="522.60" y="465">22</text><text x="538.20" y="465">24</text><text x="553.80" y="465">26</text><text x="569.40" y="465">28</text><text x="585.00" y="465">30</text><text x="600.60" y="465">32</text><text x="616.20" y="465">34</text><text x="631.80" y="465">36</text><text x="647.40" y="465">38</text><text x="663.00" y="465">40</text><text x="678.60" y="465">42</text><text x="694.20" y="465">44</text><text x="709.80" y="465">50</text></g>
<g transform="translate(635,441.5) scale(1)">
<text transform="skewX(-9)" font-family="'DejaVu Sans','Liberation Sans',sans-serif" y="0"><tspan x="-1.5" font-size="31" fill="#2b4a8c" textLength="16" lengthAdjust="spacingAndGlyphs">A</tspan><tspan x="16.8" font-size="26.5" fill="#e2301c" textLength="13" lengthAdjust="spacingAndGlyphs">E</tspan><tspan x="29.5" font-size="23" fill="#35589e" textLength="16" lengthAdjust="spacingAndGlyphs">M</tspan><tspan x="45" font-size="17" fill="#35589e" textLength="9.5" lengthAdjust="spacingAndGlyphs">e</tspan><tspan x="55" font-size="31" font-weight="200" fill="#35589e" stroke="#35589e" stroke-width="0.5" textLength="14" lengthAdjust="spacingAndGlyphs">t</tspan></text>
<path d="M2,-5.2 C7,-4.6 13,-8.5 21.5,-14.5" fill="none" stroke="#f2c200" stroke-width="2" stroke-linecap="round"/>
<text x="-2" y="8.6" font-size="5.2" font-weight="bold" fill="#5a7cc0" textLength="68.5" lengthAdjust="spacingAndGlyphs">Agencia Estatal de Meteorología</text>
</g>
<g>
<text x="7.5" y="349.6" font-size="2.6" font-weight="bold" fill="#222" textLength="160.5" lengthAdjust="spacingAndGlyphs">Temperatura máxima (ºC) registrada entre las 07:10UTC del día 17/07/2023 y las 19:00UTC del día 17/07/2023</text>
<g stroke="#8a7a20" stroke-width="0.35" stroke-linejoin="round">
<polygon points="28.3,360 32.5,358 36.7,361 36.5,364 35.8,366.7 34.5,370 33.3,372.5 30.8,370 29.5,367 29,364" fill="#f2e418" /><polygon points="19,396 22,394.5 25,393 28.3,393 27.5,396.7 26,398.5 24,400 21.7,397.5" fill="#c8e030" /><polygon points="60,379 66.7,380 71,378 75,376 81.7,374 85,375 83,377.5 80,380 77.5,382.5 75,385 73,388 71.7,390 69,391.5 65.8,392.5 63.3,388 61.7,383" fill="#ffc414" /><polygon points="98.8,390 102,390.5 105,391 105.5,394 106.3,397.5 105.5,401 103.5,403.5 100,405 96,404.5 93,402 91.5,398 92,394 94.5,391.5" fill="#ffd200" /><polygon points="154,371 156,366.7 161,364 165,362.5 166,358.3 168.3,361 167.5,364.5 166.7,367.5 161,371 156,372.5" fill="#ffd610" /><polygon points="149,377.5 153.3,375 155,377.5 154.5,381 154,385 151,391.7 143.3,394 138.3,398.3 132.5,396.7 140,393.3 144,386.7 146.7,381" fill="#ffd610" /><circle cx="49.2" cy="386.3" r="3.7" fill="#d8e828"/></g>
<g filter="url(#bl)"><ellipse cx="32.6" cy="365" rx="1.3" ry="4" fill="#9ad030"/><ellipse cx="49.2" cy="386.3" rx="1.6" ry="1.5" fill="#78c830"/><ellipse cx="67.5" cy="383.3" rx="3.2" ry="2.2" fill="#7cc83c"/><ellipse cx="72" cy="380.5" rx="4" ry="1.5" fill="#d8e030"/></g>
<rect x="3.30" y="429.2" width="6.10" height="3.4" fill="#8a20d8"/><rect x="9.35" y="429.2" width="6.10" height="3.4" fill="#b428d0"/><rect x="15.39" y="429.2" width="6.10" height="3.4" fill="#c83cd0"/><rect x="21.44" y="429.2" width="6.10" height="3.4" fill="#c85cc8"/><rect x="27.48" y="429.2" width="6.10" height="3.4" fill="#c878c4"/><rect x="33.53" y="429.2" width="6.10" height="3.4" fill="#cc94c8"/><rect x="39.57" y="429.2" width="6.10" height="3.4" fill="#d4a8cc"/><rect x="45.62" y="429.2" width="6.10" height="3.4" fill="#dcc0d8"/><rect x="51.66" y="429.2" width="6.10" height="3.4" fill="#e8dce8"/><rect x="57.71" y="429.2" width="6.10" height="3.4" fill="#ffffff"/><rect x="63.75" y="429.2" width="6.10" height="3.4" fill="#000078"/><rect x="69.80" y="429.2" width="6.10" height="3.4" fill="#0000a8"/><rect x="75.85" y="429.2" width="6.10" height="3.4" fill="#0010d8"/><rect x="81.89" y="429.2" width="6.10" height="3.4" fill="#3060f0"/><rect x="87.94" y="429.2" width="6.10" height="3.4" fill="#7090f8"/><rect x="93.98" y="429.2" width="6.10" height="3.4" fill="#00f0f0"/><rect x="100.03" y="429.2" width="6.10" height="3.4" fill="#00dcd0"/><rect x="106.07" y="429.2" width="6.10" height="3.4" fill="#00c8b8"/><rect x="112.12" y="429.2" width="6.10" height="3.4" fill="#00b4a0"/><rect x="118.16" y="429.2" width="6.10" height="3.4" fill="#78f000"/><rect x="124.21" y="429.2" width="6.10" height="3.4" fill="#c8f020"/><rect x="130.25" y="429.2" width="6.10" height="3.4" fill="#ffff00"/><rect x="136.30" y="429.2" width="6.10" height="3.4" fill="#ffd800"/><rect x="142.35" y="429.2" width="6.10" height="3.4" fill="#ffc020"/><rect x="148.39" y="429.2" width="6.10" height="3.4" fill="#ffa400"/><rect x="154.44" y="429.2" width="6.10" height="3.4" fill="#ff7c00"/><rect x="160.48" y="429.2" width="6.10" height="3.4" fill="#ff0000"/><rect x="166.53" y="429.2" width="6.10" height="3.4" fill="#ff14e6"/><rect x="172.57" y="429.2" width="6.10" height="3.4" fill="#eb0abe"/><rect x="178.62" y="429.2" width="6.10" height="3.4" fill="#d70596"/><rect x="184.66" y="429.2" width="6.10" height="3.4" fill="#c80078"/><rect x="190.71" y="429.2" width="6.10" height="3.4" fill="#b4005a"/><rect x="196.75" y="429.2" width="6.10" height="3.4" fill="#a01928"/><g font-size="2.6" text-anchor="middle" fill="#444"><text x="3.30" y="428">-30</text><text x="9.35" y="428">-18</text><text x="15.39" y="428">-16</text><text x="21.44" y="428">-14</text><text x="27.48" y="428">-12</text><text x="33.53" y="428">-10</text><text x="39.57" y="428">-8</text><text x="45.62" y="428">-6</text><text x="51.66" y="428">-4</text><text x="57.71" y="428">-2</text><text x="63.75" y="428">0</text><text x="69.80" y="428">2</text><text x="75.85" y="428">4</text><text x="81.89" y="428">6</text><text x="87.94" y="428">8</text><text x="93.98" y="428">10</text><text x="100.03" y="428">12</text><text x="106.07" y="428">14</text><text x="112.12" y="428">16</text><text x="118.16" y="428">18</text><text x="124.21" y="428">20</text><text x="130.25" y="428">22</text><text x="136.30" y="428">24</text><text x="142.35" y="428">26</text><text x="148.39" y="428">28</text><text x="154.44" y="428">30</text><text x="160.48" y="428">32</text><text x="166.53" y="428">34</text><text x="172.57" y="428">36</text><text x="178.62" y="428">38</text><text x="184.66" y="428">40</text><text x="190.71" y="428">42</text><text x="196.75" y="428">44</text><text x="202.80" y="428">50</text></g>
<text x="4.5" y="423.4" font-size="2.5" fill="#4a4ad0" textLength="45.5" lengthAdjust="spacingAndGlyphs">(C) Agencia Estatal de Meteorología</text>
<text x="72" y="423.4" font-size="2.5" fill="#3a3ac8" textLength="62" lengthAdjust="spacingAndGlyphs">Datos provisionales sujetos a validación posterior</text>
<line x1="72" y1="424" x2="134" y2="424" stroke="#3a3ac8" stroke-width="0.3"/>
<g transform="translate(174.2,418.6) scale(0.385)">
<text transform="skewX(-9)" font-family="'DejaVu Sans','Liberation Sans',sans-serif" y="0"><tspan x="-1.5" font-size="31" fill="#2b4a8c" textLength="16" lengthAdjust="spacingAndGlyphs">A</tspan><tspan x="16.8" font-size="26.5" fill="#e2301c" textLength="13" lengthAdjust="spacingAndGlyphs">E</tspan><tspan x="29.5" font-size="23" fill="#35589e" textLength="16" lengthAdjust="spacingAndGlyphs">M</tspan><tspan x="45" font-size="17" fill="#35589e" textLength="9.5" lengthAdjust="spacingAndGlyphs">e</tspan><tspan x="55" font-size="31" font-weight="200" fill="#35589e" stroke="#35589e" stroke-width="0.5" textLength="14" lengthAdjust="spacingAndGlyphs">t</tspan></text>
<path d="M2,-5.2 C7,-4.6 13,-8.5 21.5,-14.5" fill="none" stroke="#f2c200" stroke-width="2" stroke-linecap="round"/>
<text x="-2" y="8.6" font-size="5.2" font-weight="bold" fill="#5a7cc0" textLength="68.5" lengthAdjust="spacingAndGlyphs">Agencia Estatal de Meteorología</text>
</g></g>
</svg>
</body></html>
